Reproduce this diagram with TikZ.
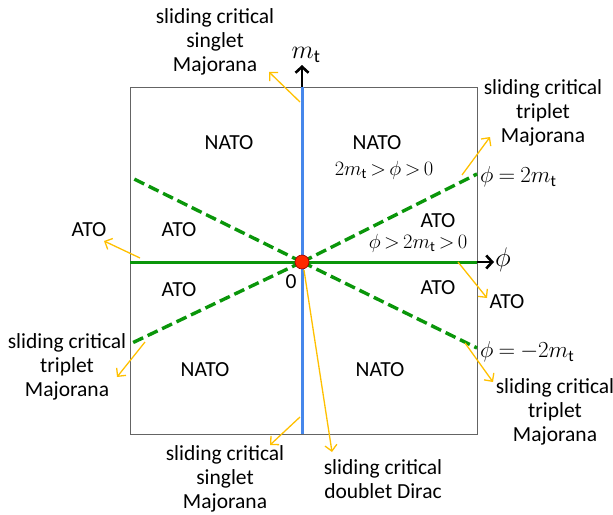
\RequirePackage{fix-cm}
\documentclass[tikz,border=0pt]{standalone}
\usepackage{fontspec}
\setmainfont{Carlito}
\usetikzlibrary{arrows.meta}
\definecolor{lgreen}{RGB}{10,150,10}
\definecolor{lblue}{RGB}{70,135,235}
\definecolor{lyellow}{RGB}{255,192,0}
\definecolor{lred}{RGB}{255,40,0}
\definecolor{boxgray}{RGB}{100,100,100}
\begin{document}
\begin{tikzpicture}[x=1pt,y=-1pt,
  txt/.style={font=\fontsize{21.5}{24}\selectfont, align=center, inner sep=0pt},
  mth/.style={font={\fontsize{23}{27}\selectfont\thickmuskip=4mu}, inner sep=0pt, anchor=west},
  ineq/.style={font={\fontsize{20.5}{24}\selectfont\thickmuskip=3mu}, inner sep=0pt},
  yarrow/.style={draw=lyellow, line width=1.3pt, -{Straight Barb[length=6pt,width=12pt]}},
  karrow/.style={draw=black, line width=2.6pt, -{Straight Barb[length=6pt,width=13pt]}},
  gdash/.style={draw=lgreen, line width=3.4pt, dash pattern=on 11pt off 5pt},
]
\useasboundingbox (0,0) rectangle (613,514);
% frame
\draw[boxgray, line width=1pt] (130,87) rectangle (477,434);
\coordinate (O) at (302,262);
\coordinate (ur) at (477,174);
\coordinate (ul) at (130,177);
\coordinate (ll) at (130,344);
\coordinate (lr) at (477,348);
\coordinate (hl) at (130,262);
\coordinate (hr) at (477,262);
\coordinate (hrr) at (494,262);
\coordinate (vt) at (302,87);
\coordinate (vtt) at (302,65);
\coordinate (vb) at (302,434);
% dashed lines
\draw[gdash] (O) -- (ur);
\draw[gdash] (O) -- (ul);
\draw[gdash] (O) -- (ll);
\draw[gdash] (O) -- (lr);
% axes
\draw[lgreen, line width=3pt] (hl) -- (hr);
\draw[karrow] (hr) -- (hrr);
\draw[lblue, line width=3pt] (vb) -- (vt);
\draw[karrow] (vt) -- (vtt);
% yellow arrows
\coordinate (y1s) at (300,102); \coordinate (y1e) at (269,72);
\coordinate (y2s) at (462,175); \coordinate (y2e) at (490,137);
\coordinate (y3s) at (140,258); \coordinate (y3e) at (104,241);
\coordinate (y4s) at (145,342); \coordinate (y4e) at (117,377);
\coordinate (y5s) at (458,262); \coordinate (y5e) at (487,298);
\coordinate (y6s) at (465,343); \coordinate (y6e) at (493,382);
\coordinate (y7s) at (300,417); \coordinate (y7e) at (270,445);
\coordinate (y8s) at (304,270); \coordinate (y8e) at (332,452);
\foreach \i in {1,...,8} {\draw[yarrow] (y\i s) -- (y\i e);}
% origin dot
\node[circle, fill=lred, draw=red!60!black, line width=0.6pt, minimum size=14pt, inner sep=0pt] (dot) at (O) {};
% labels
\node[txt] (sTL) at (215,42) {sliding critical\\singlet\\Majorana};
\node[font=\fontsize{26}{30}\selectfont, inner sep=0pt] (mt) at (306,55) {$m_{\mathrm{t}}$};
\node[txt] (natoUL) at (229,143) {NATO};
\node[txt] (natoUR) at (377,143) {NATO};
\node[ineq] (inU) at (384,170) {$2m_{\mathrm{t}}>\phi>0$};
\node[txt] (tUR) at (543,113) {sliding critical\\triplet\\Majorana};
\node[mth] (eqU) at (480,177) {$\phi=2m_{\mathrm{t}}$};
\node[txt] (atoL1) at (179,230) {ATO};
\node[txt] (atoR1) at (438,221) {ATO};
\node[ineq] (inR) at (418,243) {$\phi>2m_{\mathrm{t}}>0$};
\node[txt] (atoFL) at (89,230) {ATO};
\node[font=\fontsize{27}{31}\selectfont, inner sep=0pt] (phi) at (503,260) {$\phi$};
\node[txt] (zero) at (291,282) {0};
\node[txt] (atoL2) at (179,290) {ATO};
\node[txt] (atoR2) at (438,288) {ATO};
\node[txt] (atoFR) at (507,302) {ATO};
\node[txt] (tL) at (67,367) {sliding critical\\triplet\\Majorana};
\node[mth] (eqD) at (480,352) {$\phi=-2m_{\mathrm{t}}$};
\node[txt] (natoLL) at (205,370) {NATO};
\node[txt] (natoLR) at (380,370) {NATO};
\node[txt] (tR) at (555,412) {sliding critical\\triplet\\Majorana};
\node[txt] (sB) at (225,479) {sliding critical\\singlet\\Majorana};
\node[txt] (dB) at (383,479) {sliding critical\\doublet Dirac};
\end{tikzpicture}
\end{document}
